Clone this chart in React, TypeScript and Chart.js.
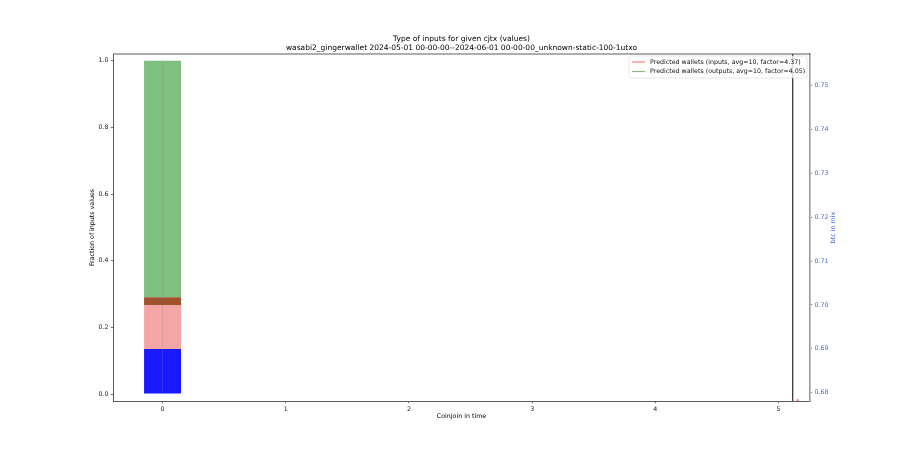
import React, { useEffect, useRef } from "react";
import { Chart, registerables } from "chart.js";

Chart.register(...registerables);

// ---- data ----
const categories = [0];
const blueValues = [0.135];
const pinkValues = [0.132];
const brownValues = [0.023];
const greenValues = [0.71];
const markerLineX = [5.115];
const btcX = [5.155];
const btcInputs = [0.6783];
const btcOutputs: number[] = [];
const legendLabels = [
  "Predicted wallets (inputs, avg=10, factor=4.37)",
  "Predicted wallets (outputs, avg=10, factor=4.05)",
];
const titleLines = [
  "Type of inputs for given cjtx (values)",
  "wasabi2_gingerwallet 2024-05-01 00-00-00--2024-06-01 00-00-00_unknown-static-100-1utxo",
];

const FONT = "'DejaVu Sans'";
const FS = 6.3;
const BLUE_AXIS = "#4169e1";

const overlayPlugin = {
  id: "overlay",
  afterDraw(chart: any) {
    const { ctx, chartArea } = chart;
    ctx.save();
    // top spine
    ctx.strokeStyle = "#333";
    ctx.lineWidth = 0.8;
    ctx.beginPath();
    ctx.moveTo(chartArea.left, chartArea.top);
    ctx.lineTo(chartArea.right, chartArea.top);
    ctx.stroke();

    // right axis label
    ctx.save();
    ctx.translate(833, (chartArea.top + chartArea.bottom) / 2);
    ctx.rotate(-Math.PI / 2);
    ctx.fillStyle = BLUE_AXIS;
    ctx.font = `${FS}px ${FONT}`;
    ctx.textAlign = "center";
    ctx.textBaseline = "middle";
    ctx.fillText("btc in mix", 0, 0);
    ctx.restore();

    // legend
    const lx = 629, ly = 56, lw = 178, lh = 22;
    ctx.fillStyle = "rgba(255,255,255,0.8)";
    ctx.strokeStyle = "rgba(204,204,204,0.8)";
    ctx.lineWidth = 0.6;
    ctx.beginPath();
    const r = 1.5;
    ctx.moveTo(lx + r, ly);
    ctx.lineTo(lx + lw - r, ly);
    ctx.quadraticCurveTo(lx + lw, ly, lx + lw, ly + r);
    ctx.lineTo(lx + lw, ly + lh - r);
    ctx.quadraticCurveTo(lx + lw, ly + lh, lx + lw - r, ly + lh);
    ctx.lineTo(lx + r, ly + lh);
    ctx.quadraticCurveTo(lx, ly + lh, lx, ly + lh - r);
    ctx.lineTo(lx, ly + r);
    ctx.quadraticCurveTo(lx, ly, lx + r, ly);
    ctx.closePath();
    ctx.fill();
    ctx.stroke();
    const ds = chart.data.datasets.filter((d: any) => d.isLegend);
    ds.forEach((d: any, i: number) => {
      const yy = ly + 6 + i * 9.5;
      ctx.strokeStyle = d.legendColor;
      ctx.lineWidth = 1.2;
      ctx.beginPath();
      ctx.moveTo(lx + 3, yy);
      ctx.lineTo(lx + 16, yy);
      ctx.stroke();
      ctx.fillStyle = "#111";
      ctx.font = `${FS}px ${FONT}`;
      ctx.textAlign = "left";
      ctx.textBaseline = "middle";
      ctx.fillText(d.label, lx + 21, yy);
    });
    ctx.restore();
  },
};

export default function App() {
  const ref = useRef<HTMLCanvasElement | null>(null);
  useEffect(() => {
    document.body.style.margin = "0";
    if (!ref.current) return;
    Chart.defaults.font.family = FONT;
    const stackTop = categories.map(
      (_, i) => blueValues[i] + pinkValues[i] + brownValues[i] + greenValues[i]
    );
    const barSet = (label: string, vals: number[], color: string) => ({
      type: "bar" as const,
      label,
      data: categories.map((c, i) => ({ x: c, y: vals[i] })),
      backgroundColor: color,
      borderWidth: 0,
      barPercentage: 0.3,
      categoryPercentage: 1,
      xAxisID: "x",
      yAxisID: "y",
      order: 1,
    });
    const chart = new Chart(ref.current, {
      type: "bar",
      data: {
        datasets: [
          barSet("blue", blueValues, "rgba(0,0,255,0.9)"),
          barSet("pink", pinkValues, "rgba(240,128,128,0.7)"),
          barSet("brown", brownValues, "#a0522d"),
          barSet("green", greenValues, "rgba(0,128,0,0.5)"),
          {
            type: "line" as const,
            label: "center",
            data: categories.flatMap((c, i) => [
              { x: c, y: 0 },
              { x: c, y: stackTop[i] },
            ]),
            borderColor: "rgba(128,128,128,0.25)",
            borderWidth: 1,
            pointRadius: 0,
            xAxisID: "x",
            yAxisID: "yaux",
            order: 0,
          },
          {
            type: "line" as const,
            label: "marker",
            data: markerLineX.flatMap((mx) => [
              { x: mx, y: -1 },
              { x: mx, y: 2 },
            ]),
            borderColor: "#000",
            borderWidth: 1,
            pointRadius: 0,
            xAxisID: "x",
            yAxisID: "yaux",
            order: 0,
          },
          {
            type: "line" as const,
            label: legendLabels[0],
            isLegend: true,
            legendColor: "#ff8080",
            data: btcX.map((x, i) => ({ x, y: btcInputs[i] })),
            borderColor: "rgba(255,0,0,0.5)",
            backgroundColor: "rgba(255,0,0,0.5)",
            borderWidth: 1,
            pointRadius: 1.2,
            pointBorderWidth: 0,
            xAxisID: "x",
            yAxisID: "y1",
            order: 0,
          } as any,
          {
            type: "line" as const,
            label: legendLabels[1],
            isLegend: true,
            legendColor: "#80c080",
            data: btcX.slice(0, btcOutputs.length).map((x, i) => ({ x, y: btcOutputs[i] })),
            borderColor: "rgba(0,128,0,0.5)",
            backgroundColor: "rgba(0,128,0,0.5)",
            borderWidth: 1,
            pointRadius: 1.2,
            xAxisID: "x",
            yAxisID: "y1",
            order: 0,
          } as any,
        ],
      },
      options: {
        responsive: false,
        animation: false,
        layout: { padding: { left: 0, right: 0, top: 0, bottom: 0 } },
        plugins: {
          legend: { display: false },
          tooltip: { enabled: false },
          title: {
            display: true,
            fullSize: false,
            text: titleLines,
            color: "#000",
            font: { family: FONT, size: 7.5, weight: "normal" as any, lineHeight: 1.2 },
            padding: { top: 35, bottom: 1 },
          },
        },
        scales: {
          x: {
            type: "linear",
            min: -0.402,
            max: 5.255,
            stacked: true,
            offset: false,
            grid: { drawOnChartArea: false, drawTicks: true, tickLength: 2.2, tickColor: "#333", tickWidth: 0.7, offset: false },
            border: { display: true, color: "#333", width: 0.8 },
            ticks: {
              stepSize: 1,
              includeBounds: false,
              padding: 2.2,
              color: "#222",
              font: { family: FONT, size: FS },
              maxRotation: 0,
              callback: (v: any) => String(v),
            },
            title: {
              display: true,
              text: "Coinjoin in time",
              color: "#000",
              font: { family: FONT, size: FS },
              padding: { top: 0, bottom: 30.25 },
            },
            afterFit: (s: any) => {
              s.height = 49;
            },
          },
          y: {
            type: "linear",
            position: "left",
            stacked: true,
            min: -0.021,
            max: 1.02,
            grid: { drawOnChartArea: false, drawTicks: true, tickLength: 2.2, tickColor: "#333", tickWidth: 0.7 },
            border: { display: true, color: "#333", width: 0.8 },
            ticks: {
              stepSize: 0.2,
              includeBounds: false,
              padding: 2.2,
              color: "#222",
              font: { family: FONT, size: FS },
              callback: (v: any) => Number(v).toFixed(1),
            },
            title: {
              display: true,
              text: "Fraction of inputs values",
              color: "#000",
              font: { family: FONT, size: FS },
              padding: { top: 88.25, bottom: 0 },
            },
            afterFit: (s: any) => {
              s.width = 113;
            },
          },
          y1: {
            type: "linear",
            position: "right",
            min: 0.67811,
            max: 0.75723,
            grid: { drawOnChartArea: false, drawTicks: true, tickLength: 2.2, tickColor: BLUE_AXIS, tickWidth: 0.7 },
            border: { display: true, color: "#9a9a9a", width: 1.6 },
            ticks: {
              stepSize: 0.01,
              includeBounds: false,
              padding: 2.2,
              color: BLUE_AXIS,
              font: { family: FONT, size: FS },
              callback: (v: any) => Number(v).toFixed(2),
            },
            afterFit: (s: any) => {
              s.width = 90;
            },
          },
          yaux: {
            type: "linear",
            display: false,
            min: -0.021,
            max: 1.02,
          },
        },
      } as any,
      plugins: [overlayPlugin],
    });
    return () => chart.destroy();
  }, []);
  return (
    <div style={{ position: "fixed", left: 0, top: 0, width: 900, height: 450, background: "#fff" }}>
      <canvas ref={ref} width={900} height={450} style={{ width: 900, height: 450 }} />
    </div>
  );
}
